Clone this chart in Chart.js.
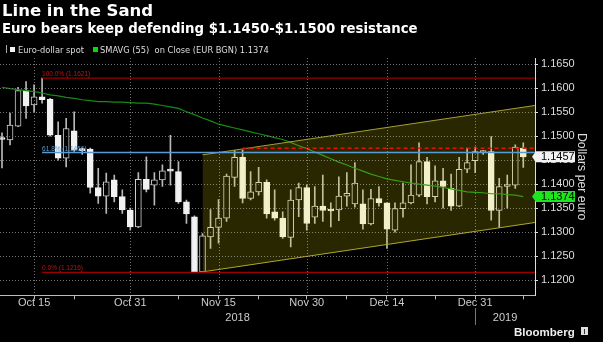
<!DOCTYPE html>
<html>
<head>
<meta charset="utf-8">
<title>Line in the Sand</title>
<script src="https://cdn.jsdelivr.net/npm/chart.js"></script>
<style>
  html, body { margin: 0; padding: 0; background: #000; }
  #wrap { position: relative; width: 603px; height: 342px; overflow: hidden; background: #000; }
  #chart { position: absolute; left: 0; top: 0; }
  .txt { position: absolute; white-space: pre; color: #fff; }
  #title { left: 2px; top: 1px; font: bold 16.5px/20px "DejaVu Sans", sans-serif; }
  #subtitle { left: 2px; top: 20.7px; font: bold 13.3px/16px "DejaVu Sans", sans-serif; }
  .legend { top: 44.6px; font: 8.3px/10px "DejaVu Sans", sans-serif; color: #ddd; }
  .swatch { position: absolute; }
  #brand { left: 514px; top: 324.5px; font: bold 11.5px/14px "Liberation Sans", Arial, sans-serif; color: #eee; }
  #logo { position: absolute; left: 581px; top: 327px; width: 7px; height: 8px; background: #ddd; }
  #logo span { position: absolute; left: 3px; top: 2px; width: 1px; height: 5px; background: #333; }
</style>
</head>
<body>
<div id="wrap">
  <canvas id="chart" width="603" height="342"></canvas>
  <div class="txt" id="title">Line in the Sand</div>
  <div class="txt" id="subtitle">Euro bears keep defending $1.1450-$1.1500 resistance</div>
  <div class="swatch" style="left:6px;top:45px;width:1px;height:8px;background:#aaa"></div>
  <div class="swatch" style="left:10px;top:46.5px;width:5px;height:5px;background:#f2f2f2"></div>
  <div class="txt legend" style="left:18px">Euro-dollar spot</div>
  <div class="swatch" style="left:93px;top:47px;width:5px;height:5px;background:#00e000"></div>
  <div class="txt legend" style="left:100px">SMAVG (55)  on Close (EUR BGN) 1.1374</div>
  <div class="txt" id="brand">Bloomberg</div>
  <div id="logo"><span></span></div>
</div>
<script>
// trading days shown on the chart (Oct 9 2018 .. Jan 8 2019)
const dates = ['Oct 9', 'Oct 10', 'Oct 11', 'Oct 12', 'Oct 15', 'Oct 16', 'Oct 17', 'Oct 18', 'Oct 19',
  'Oct 22', 'Oct 23', 'Oct 24', 'Oct 25', 'Oct 26', 'Oct 29', 'Oct 30', 'Oct 31',
  'Nov 1', 'Nov 2', 'Nov 5', 'Nov 6', 'Nov 7', 'Nov 8', 'Nov 9', 'Nov 12', 'Nov 13', 'Nov 14', 'Nov 15', 'Nov 16',
  'Nov 19', 'Nov 20', 'Nov 21', 'Nov 22', 'Nov 23', 'Nov 26', 'Nov 27', 'Nov 28', 'Nov 29', 'Nov 30',
  'Dec 3', 'Dec 4', 'Dec 5', 'Dec 6', 'Dec 7', 'Dec 10', 'Dec 11', 'Dec 12', 'Dec 13', 'Dec 14',
  'Dec 17', 'Dec 18', 'Dec 19', 'Dec 20', 'Dec 21', 'Dec 24', 'Dec 25', 'Dec 26', 'Dec 27', 'Dec 28', 'Dec 31',
  'Jan 1', 'Jan 2', 'Jan 3', 'Jan 4', 'Jan 7', 'Jan 8'];

const open = [1.1497, 1.1492, 1.1521, 1.1595, 1.1565, 1.1582, 1.1577, 1.1502, 1.1454, 1.1511,
  1.1473, 1.1473, 1.1393, 1.1375, 1.1409, 1.1374, 1.1346, 1.1311, 1.1410, 1.1398,
  1.1409, 1.1429, 1.1426, 1.1363, 1.1332, 1.1217, 1.1290, 1.1310, 1.1329, 1.1414,
  1.1456, 1.1370, 1.1384, 1.1404, 1.1342, 1.1329, 1.1289, 1.1367, 1.1393, 1.1331,
  1.1354, 1.1345, 1.1346, 1.1375, 1.1359, 1.1359, 1.1317, 1.1370, 1.1361, 1.1304,
  1.1349, 1.1361, 1.1377, 1.1447, 1.1374, 1.1407, 1.1391, 1.1354, 1.1431, 1.1449,
  1.1466, 1.1468, 1.1345, 1.1395, 1.1398, 1.1475];
const high = [1.1507, 1.1548, 1.1602, 1.1614, 1.1607, 1.1621, 1.1579, 1.1530, 1.1537, 1.1551,
  1.1475, 1.1475, 1.1433, 1.1423, 1.1419, 1.1388, 1.1350, 1.1424, 1.1457, 1.1424,
  1.1440, 1.1502, 1.1447, 1.1367, 1.1334, 1.1297, 1.1347, 1.1368, 1.1421, 1.1470,
  1.1471, 1.1426, 1.1435, 1.1409, 1.1388, 1.1342, 1.1388, 1.1402, 1.1398, 1.1395,
  1.1419, 1.1361, 1.1415, 1.1424, 1.1445, 1.1388, 1.1389, 1.1395, 1.1361, 1.1361,
  1.1402, 1.1440, 1.1486, 1.1456, 1.1438, 1.1433, 1.1421, 1.1456, 1.1475, 1.1477,
  1.1470, 1.1499, 1.1412, 1.1419, 1.1482, 1.1486];
const low = [1.1434, 1.1482, 1.1520, 1.1537, 1.1551, 1.1569, 1.1500, 1.1450, 1.1436, 1.1468,
  1.1462, 1.1381, 1.1360, 1.1339, 1.1363, 1.1339, 1.1304, 1.1309, 1.1384, 1.1356,
  1.1395, 1.1398, 1.1360, 1.1318, 1.1216, 1.1216, 1.1266, 1.1277, 1.1322, 1.1395,
  1.1361, 1.1367, 1.1377, 1.1329, 1.1325, 1.1287, 1.1269, 1.1332, 1.1304, 1.1318,
  1.1322, 1.1311, 1.1324, 1.1354, 1.1352, 1.1306, 1.1315, 1.1354, 1.1266, 1.1300,
  1.1331, 1.1359, 1.1374, 1.1359, 1.1363, 1.1350, 1.1345, 1.1353, 1.1424, 1.1424,
  1.1462, 1.1325, 1.1310, 1.1350, 1.1391, 1.1435];
const close = [1.1493, 1.1523, 1.1595, 1.1563, 1.1582, 1.1576, 1.1502, 1.1454, 1.1516, 1.1471,
  1.1470, 1.1393, 1.1375, 1.1405, 1.1374, 1.1346, 1.1311, 1.1410, 1.1389, 1.1409,
  1.1428, 1.1427, 1.1363, 1.1338, 1.1217, 1.1292, 1.1310, 1.1329, 1.1417, 1.1456,
  1.1370, 1.1384, 1.1404, 1.1338, 1.1329, 1.1290, 1.1367, 1.1393, 1.1318, 1.1354,
  1.1345, 1.1344, 1.1375, 1.1381, 1.1402, 1.1317, 1.1370, 1.1361, 1.1306, 1.1349,
  1.1361, 1.1377, 1.1447, 1.1374, 1.1407, 1.1395, 1.1354, 1.1431, 1.1445, 1.1468,
  1.1467, 1.1345, 1.1395, 1.1396, 1.1477, 1.1457];
// 55-day simple moving average of the close
const sma55 = [1.1602, 1.1599, 1.1597, 1.1595, 1.1593, 1.1590, 1.1586, 1.1584, 1.1581, 1.1579,
  1.1576, 1.1574, 1.1572, 1.1572, 1.1571, 1.1571, 1.1570, 1.1569, 1.1569, 1.1567,
  1.1564, 1.1561, 1.1558, 1.1551, 1.1545, 1.1538, 1.1532, 1.1525, 1.1521, 1.1517,
  1.1513, 1.1509, 1.1505, 1.1501, 1.1497, 1.1493, 1.1487, 1.1480, 1.1474, 1.1467,
  1.1460, 1.1453, 1.1446, 1.1440, 1.1433, 1.1427, 1.1421, 1.1416, 1.1411, 1.1408,
  1.1405, 1.1402, 1.1400, 1.1398, 1.1396, 1.1393, 1.1390, 1.1387, 1.1384, 1.1383,
  1.1382, 1.1380, 1.1380, 1.1378, 1.1377, 1.1374];

// retracement levels drawn from the Oct 16 high
const fibPct = [100.0, 61.8, 0.0];
const fibLevels = [1.1621, 1.1466, 1.1216];
const fibColors = ['#9a0000', '#5b9bd5', '#9a0000'];
const fibLabelColors = ['#c81010', '#5b9bd5', '#c81010'];
const fibStart = 'Oct 16';

const resistance = 1.1475;
const resistanceStart = 'Nov 20';

const channelStart = 'Nov 13';
const channelUpper = [1.1461, 1.1564];
const channelLower = [1.1217, 1.1320];

const majorTicks = ['Oct 15', 'Oct 31', 'Nov 15', 'Nov 30', 'Dec 14', 'Dec 31'];
const minorTicks = ['Oct 22', 'Nov 8', 'Nov 22', 'Dec 7', 'Dec 24', 'Jan 8'];
const years = ['2018', '2019'];
const yearBreak = 'Dec 31';
const yTicks = [1.1200, 1.1250, 1.1300, 1.1350, 1.1400, 1.1450, 1.1500, 1.1550, 1.1600, 1.1650];

const xMin = -0.25, xMax = 66.46;
const yMin = 1.1168, yMax = 1.1663;

const idx = d => dates.indexOf(d);
const isUp = i => close[i] > open[i];
const majorIdx = majorTicks.map(idx);
const tickIdx = majorIdx.concat(minorTicks.map(idx)).sort((a, b) => a - b);
const font = '"Liberation Sans", Arial, sans-serif';

const hLine = (from, v0, v1) => [{ x: idx(from), y: v0 }, { x: xMax, y: v1 === undefined ? v0 : v1 }];

function drawTag(ctx, yPix, left, bg, text) {
  ctx.fillStyle = bg;
  ctx.beginPath();
  ctx.moveTo(left - 3, yPix);
  ctx.lineTo(left + 1, yPix - 5.5);
  ctx.lineTo(left + 40, yPix - 5.5);
  ctx.lineTo(left + 40, yPix + 5.5);
  ctx.lineTo(left + 1, yPix + 5.5);
  ctx.closePath();
  ctx.fill();
  ctx.fillStyle = '#000';
  ctx.font = '11px ' + font;
  ctx.textBaseline = 'middle';
  ctx.textAlign = 'left';
  ctx.fillText(text, left + 6, yPix + 0.5);
}

const annotations = {
  id: 'annotations',
  afterDatasetsDraw(chart) {
    const { ctx, chartArea: a, scales: { x, y } } = chart;
    // dotted grid at the y ticks and the labelled dates, lightened into the dark background only
    ctx.save();
    ctx.globalCompositeOperation = 'lighten';
    ctx.strokeStyle = '#707070';
    ctx.lineWidth = 1;
    ctx.setLineDash([1, 2]);
    ctx.beginPath();
    y.ticks.forEach(t => {
      const p = Math.round(y.getPixelForValue(t.value)) + 0.5;
      ctx.moveTo(a.left, p);
      ctx.lineTo(a.right, p);
    });
    majorIdx.forEach(i => {
      const p = Math.round(x.getPixelForValue(i)) + 0.5;
      ctx.moveTo(p, a.top);
      ctx.lineTo(p, a.bottom);
    });
    ctx.stroke();
    ctx.restore();

    ctx.save();
    ctx.font = '6.5px ' + font;
    ctx.textBaseline = 'bottom';
    fibLevels.forEach((lv, k) => {
      ctx.fillStyle = fibLabelColors[k];
      ctx.fillText(fibPct[k].toFixed(1) + '% (' + lv.toFixed(4) + ')',
        x.getPixelForValue(idx(fibStart)), y.getPixelForValue(lv) - 0.5);
    });
    ctx.restore();
  },
  afterDraw(chart) {
    const { ctx, chartArea, scales: { x, y } } = chart;
    ctx.save();
    const last = close.length - 1;
    drawTag(ctx, y.getPixelForValue(close[last]), chartArea.right, '#f2f2f2', close[last].toFixed(4));
    drawTag(ctx, y.getPixelForValue(sma55[last]), chartArea.right, '#1ee61e', sma55[last].toFixed(4));

    // year labels under the date ticks
    const sep = x.getPixelForValue(idx(yearBreak));
    ctx.strokeStyle = '#777';
    ctx.lineWidth = 1;
    ctx.beginPath();
    ctx.moveTo(Math.round(sep) + 0.5, 308);
    ctx.lineTo(Math.round(sep) + 0.5, 325);
    ctx.stroke();
    ctx.fillStyle = '#ccc';
    ctx.font = '11px ' + font;
    ctx.textAlign = 'center';
    ctx.textBaseline = 'middle';
    ctx.fillText(years[0], (chartArea.left + sep) / 2, 318);
    ctx.fillText(years[1], (sep + chartArea.right) / 2, 318);
    ctx.restore();
  }
};

const lineDefaults = { type: 'line', pointRadius: 0, tension: 0, fill: false, backgroundColor: 'rgba(0,0,0,0)' };

const ctx = document.getElementById('chart').getContext('2d');
new Chart(ctx, {
  type: 'bar',
  data: {
    datasets: [
      ...fibLevels.map((lv, k) => ({
        ...lineDefaults,
        data: hLine(fibStart, lv),
        borderColor: fibColors[k],
        borderWidth: k === 1 ? 1.6 : 1.2,
        order: 0,
      })),
      {
        ...lineDefaults,
        data: hLine(resistanceStart, resistance),
        borderColor: '#e81010',
        borderWidth: 1.5,
        borderDash: [4, 3],
        order: 0,
      },
      {
        ...lineDefaults,
        data: hLine(channelStart, channelUpper[0], channelUpper[1]),
        borderColor: '#a8a030',
        borderWidth: 1,
        backgroundColor: 'rgba(240, 230, 0, 0.17)',
        fill: '+1',
        order: 1,
      },
      {
        ...lineDefaults,
        data: hLine(channelStart, channelLower[0], channelLower[1]),
        borderColor: '#a8a030',
        borderWidth: 1,
        order: 1,
      },
      {
        ...lineDefaults,
        data: sma55.map((v, i) => ({ x: i, y: v })),
        borderColor: '#148c14',
        borderWidth: 1.2,
        order: 2,
      },
      {
        label: 'Euro-dollar spot',
        data: dates.map((d, i) => ({ x: i, y: [open[i], close[i]] })),
        backgroundColor: c => isUp(c.dataIndex) ? '#000' : '#f2f2f2',
        borderColor: c => isUp(c.dataIndex) ? '#cfcfcf' : '#f2f2f2',
        borderWidth: 1,
        borderSkipped: false,
        barThickness: 6,
        minBarLength: 2,
        grouped: false,
        order: 3,
      },
      {
        data: dates.map((d, i) => ({ x: i, y: [low[i], high[i]] })),
        backgroundColor: '#b8b8b8',
        borderWidth: 0,
        barThickness: 1,
        grouped: false,
        order: 4,
      },
    ],
  },
  options: {
    responsive: false,
    animation: false,
    events: [],
    layout: { padding: { top: 58, left: 0, right: 0, bottom: 0 } },
    plugins: { legend: { display: false }, tooltip: { enabled: false } },
    scales: {
      x: {
        type: 'linear',
        min: xMin,
        max: xMax,
        offset: false,
        afterBuildTicks: s => { s.ticks = tickIdx.map(v => ({ value: v })); },
        afterFit: s => { s.height = 46.6; },
        ticks: {
          autoSkip: false,
          maxRotation: 0,
          padding: -1.5,
          color: '#ccc',
          font: { family: font, size: 11, lineHeight: 1 },
          callback: v => majorIdx.includes(v) ? dates[v] : '',
        },
        grid: { offset: false, drawOnChartArea: false, tickColor: '#bbb', tickLength: 4 },
        border: { color: '#bbb' },
      },
      y: {
        type: 'linear',
        position: 'right',
        min: yMin,
        max: yMax,
        beginAtZero: false,
        afterBuildTicks: s => { s.ticks = yTicks.map(v => ({ value: v })); },
        afterFit: s => { s.width = 68; },
        ticks: {
          padding: 3,
          color: '#ddd',
          font: { family: font, size: 11 },
          callback: v => v.toFixed(4),
        },
        grid: { drawOnChartArea: false, tickColor: '#ddd', tickLength: 3 },
        border: { color: '#ddd' },
        title: {
          display: true,
          text: 'Dollars per euro',
          color: '#ddd',
          font: { family: font, size: 12.3 },
          padding: { top: 14, bottom: 0 },
        },
      },
    },
  },
  plugins: [annotations],
});
</script>
</body>
</html>
